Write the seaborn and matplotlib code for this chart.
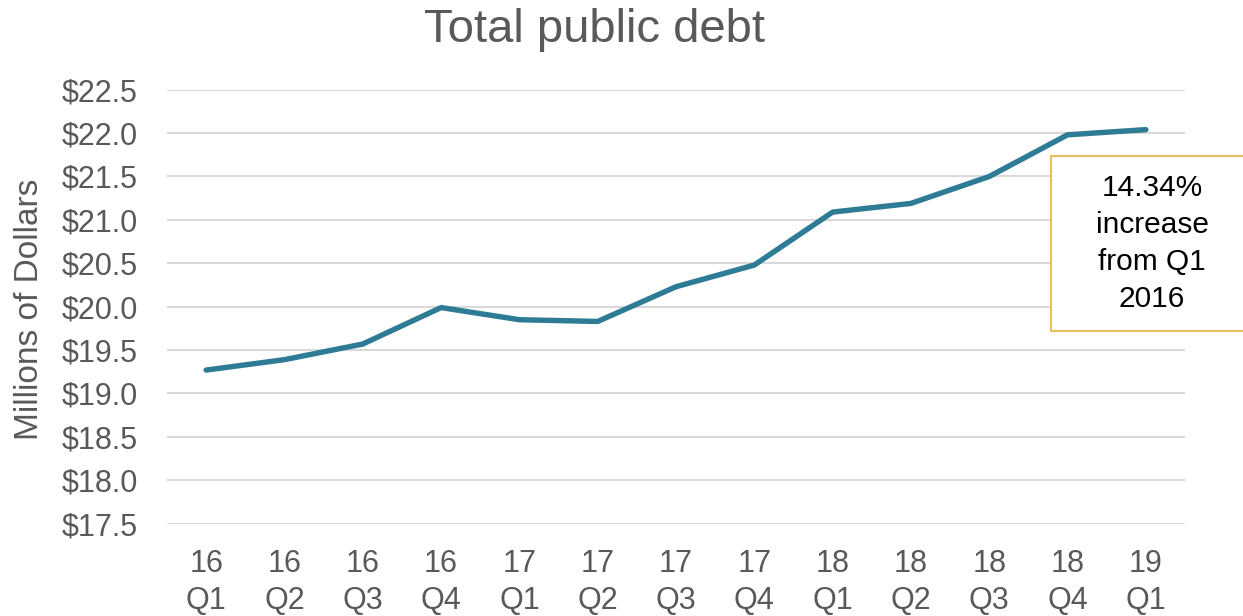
import matplotlib
matplotlib.use("Agg")
import matplotlib.pyplot as plt
import seaborn as sns
import pandas as pd
from matplotlib.patches import Rectangle

quarters = ["16\nQ1", "16\nQ2", "16\nQ3", "16\nQ4", "17\nQ1", "17\nQ2", "17\nQ3",
            "17\nQ4", "18\nQ1", "18\nQ2", "18\nQ3", "18\nQ4", "19\nQ1"]
debt = [19.27, 19.39, 19.57, 19.99, 19.85, 19.83, 20.23, 20.48, 21.09, 21.19, 21.50, 21.98, 22.04]
y_ticks = [17.5, 18.0, 18.5, 19.0, 19.5, 20.0, 20.5, 21.0, 21.5, 22.0, 22.5]

title = "Total public debt"
y_label = "Millions of Dollars"
note = "14.34%\nincrease\nfrom Q1\n2016"

sns.set_theme(style="white")
plt.rcParams["font.family"] = ["Liberation Sans", "DejaVu Sans"]

grey = "#595959"
line_color = "#2E7B96"

fig = plt.figure(figsize=(12.43, 6.16), dpi=100)
ax = fig.add_axes([167 / 1243, 1 - 523.7 / 616, (1185 - 167) / 1243, (523.7 - 89.7) / 616])

df = pd.DataFrame({"quarter": quarters, "debt": debt})
sns.lineplot(data=df, x="quarter", y="debt", ax=ax, color=line_color, linewidth=3.9,
             sort=False, solid_capstyle="round", zorder=3)

ax.set_xlim(-0.5, len(quarters) - 0.5)
ax.set_ylim(17.5, 22.5)
ax.set_yticks(y_ticks)
ax.set_yticklabels([f"${v:.1f}" for v in y_ticks])
ax.grid(axis="y", color="#D9D9D9", linewidth=1.5, zorder=0)
ax.grid(axis="x", visible=False)
for s in ax.spines.values():
    s.set_visible(False)
ax.tick_params(axis="both", length=0, labelsize=22, labelcolor=grey)
ax.tick_params(axis="y", pad=21)
ax.tick_params(axis="x", pad=18)
ax.set_xlabel("")
ax.set_ylabel("")
for lbl in ax.get_xticklabels():
    lbl.set_linespacing(1.3)

fig.text(595 / 1243, 1 - 30 / 616, title, ha="center", va="center", fontsize=34, color=grey)
fig.text(30 / 1243, 1 - 309 / 616, y_label, ha="center", va="center", rotation=90,
         fontsize=24, color=grey)

rect = Rectangle((1051 / 1243, 1 - 331 / 616), 0.2, (331 - 156) / 616,
                 transform=fig.transFigure, facecolor="white", edgecolor="#E8B84B",
                 linewidth=1.3, zorder=5, clip_on=False)
fig.patches.append(rect)
fig.text(1152 / 1243, 1 - 243.5 / 616, note, ha="center", va="center", fontsize=21.5,
         color="black", linespacing=1.42, zorder=6)

fig.savefig("out.png", dpi=100)
